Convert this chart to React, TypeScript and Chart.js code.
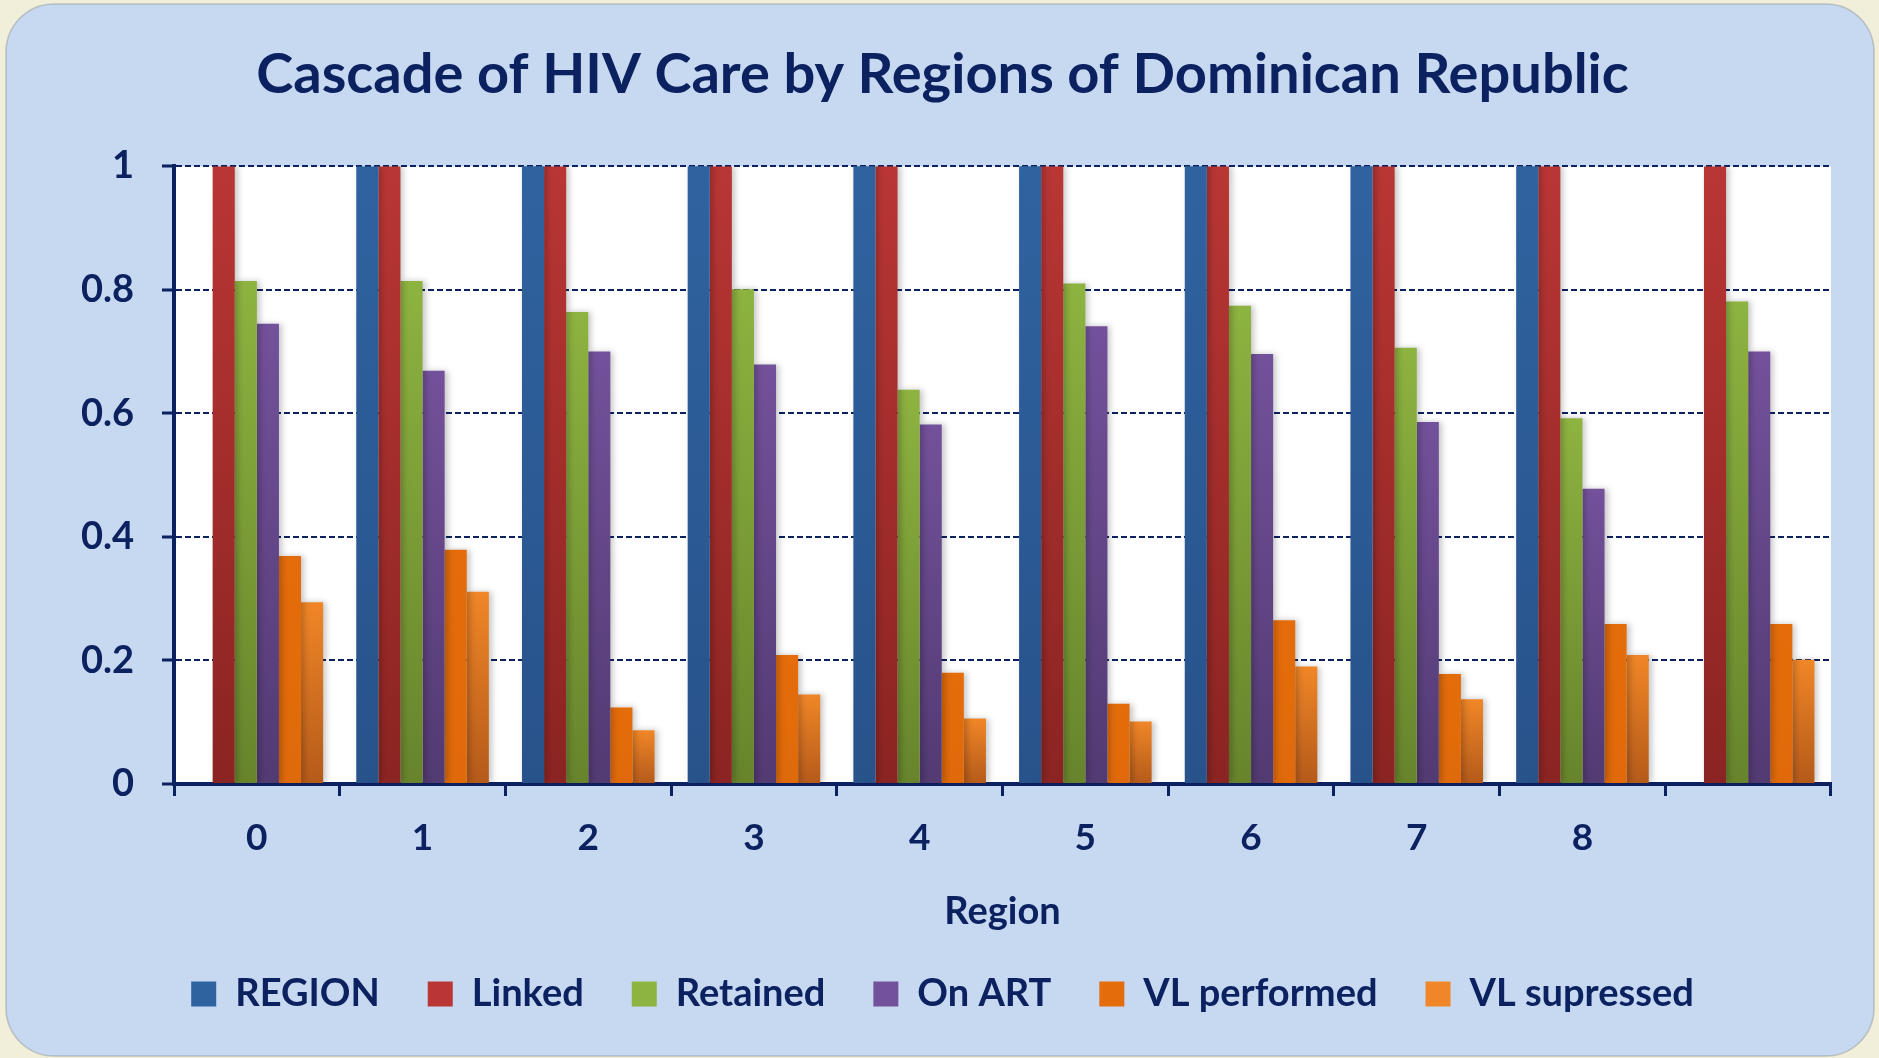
import React, { useEffect, useRef } from "react";
import { Chart, registerables } from "chart.js";

Chart.register(...registerables);

const categories = ["0", "1", "2", "3", "4", "5", "6", "7", "8", ""];
const seriesNames = ["REGION", "Linked", "Retained", "On ART", "VL performed", "VL supressed"];
const regionVals = [0, 1, 2, 3, 4, 5, 6, 7, 8, null];
const linkedVals = [1, 1, 1, 1, 1, 1, 1, 1, 1, 1];
const retainedVals = [0.814, 0.814, 0.764, 0.801, 0.638, 0.81, 0.774, 0.706, 0.592, 0.781];
const onArtVals = [0.745, 0.669, 0.7, 0.679, 0.582, 0.741, 0.696, 0.586, 0.478, 0.7];
const vlPerformedVals = [0.369, 0.379, 0.124, 0.209, 0.18, 0.13, 0.265, 0.178, 0.259, 0.259];
const vlSuppressedVals = [0.294, 0.311, 0.087, 0.145, 0.106, 0.101, 0.19, 0.137, 0.209, 0.201];
const yTickValues = [0, 0.2, 0.4, 0.6, 0.8, 1];
const yTickLabels = ["0", "0.2", "0.4", "0.6", "0.8", "1"];

const NAVY = "#0c2160";
const topColors = ["#2f63a0", "#b93634", "#8db340", "#73519b", "#e46c0a", "#f08627"];
const bottomColors = ["#28528a", "#8a2422", "#67842c", "#523a72", "#e06a0a", "#b45a1a"];

const makeBg = (top: string, bottom: string) => (ctx: any) => {
  const chart = ctx.chart;
  const ca = chart.chartArea;
  if (!ca || ctx.type !== "data") return top;
  const v = ctx.raw;
  if (v == null) return top;
  const y = chart.scales.y;
  const yTop = y.getPixelForValue(Math.min(v, 1));
  const yBot = y.getPixelForValue(0);
  if (yBot - yTop < 1) return top;
  const g = chart.ctx.createLinearGradient(0, yTop, 0, yBot);
  g.addColorStop(0, top);
  g.addColorStop(1, bottom);
  return g;
};

const panelPlugin = {
  id: "panelBg",
  beforeDraw(chart: any) {
    const { ctx, width, height, chartArea } = chart;
    ctx.save();
    ctx.fillStyle = "#f1eed9";
    ctx.fillRect(0, 0, width, height);
    ctx.fillStyle = "#c6d9f0";
    ctx.strokeStyle = "rgba(110,120,130,0.35)";
    ctx.lineWidth = 1.5;
    ctx.beginPath();
    ctx.roundRect(6, 4, 1868, 1052, 48);
    ctx.fill();
    ctx.stroke();
    ctx.fillStyle = "#ffffff";
    ctx.fillRect(chartArea.left, chartArea.top, chartArea.right - chartArea.left, chartArea.bottom - chartArea.top);
    ctx.restore();
  },
};

const shadowPlugin = {
  id: "barShadow",
  beforeDatasetsDraw(chart: any) {
    const ctx = chart.ctx;
    ctx.save();
    ctx.shadowColor = "rgba(0,0,0,0.22)";
    ctx.shadowBlur = 6;
    ctx.shadowOffsetX = 3;
    ctx.shadowOffsetY = 0;
  },
  afterDatasetsDraw(chart: any) {
    chart.ctx.restore();
  },
};

export default function App() {
  const ref = useRef<HTMLCanvasElement | null>(null);

  useEffect(() => {
    let chart: Chart | null = null;
    let cancelled = false;
    const build = () => {
      if (cancelled || !ref.current) return;
      const allVals = [regionVals, linkedVals, retainedVals, onArtVals, vlPerformedVals, vlSuppressedVals];
      chart = new Chart(ref.current, {
        type: "bar",
        data: {
          labels: categories,
          datasets: seriesNames.map((name, i) => ({
            label: name,
            data: allVals[i] as any,
            backgroundColor: makeBg(topColors[i], bottomColors[i]) as any,
            borderWidth: 0,
            categoryPercentage: 0.8,
            barPercentage: 1.0,
          })),
        },
        options: {
          responsive: false,
          animation: false,
          layout: { padding: { left: 54, right: 48, top: 0, bottom: 35 } },
          plugins: {
            tooltip: { enabled: false },
            title: {
              display: true,
              text: "Cascade of HIV Care by Regions of Dominican Republic",
              color: NAVY,
              font: { family: "Lato", weight: "bold", size: 56, lineHeight: 1.2 },
              padding: { top: 41, bottom: 58 },
            },
            legend: {
              display: true,
              position: "bottom",
              labels: {
                color: NAVY,
                font: { family: "Lato", weight: "bold", size: 38 },
                boxWidth: 25,
                boxHeight: 25,
                padding: 48,
                generateLabels: (c: any) =>
                  c.data.datasets.map((d: any, i: number) => ({
                    text: d.label,
                    fillStyle: topColors[i],
                    strokeStyle: topColors[i],
                    lineWidth: 0,
                    fontColor: NAVY,
                    datasetIndex: i,
                    hidden: false,
                  })),
              },
            },
          },
          scales: {
            x: {
              afterFit: (s: any) => {
                s.height = 143;
              },
              grid: {
                display: true,
                drawOnChartArea: false,
                drawTicks: true,
                offset: true,
                tickLength: 12,
                tickColor: NAVY,
                tickWidth: 3,
              },
              border: { display: true, color: NAVY, width: 4 },
              ticks: {
                color: NAVY,
                padding: 20,
                font: { family: "Lato", weight: "bold", size: 37 },
              },
              title: {
                display: true,
                text: "Region",
                color: NAVY,
                font: { family: "Lato", weight: "bold", size: 38, lineHeight: 1.2 },
                padding: { top: 0, bottom: -8 },
              },
            },
            y: {
              min: 0,
              max: 1,
              afterFit: (s: any) => {
                s.width = 120;
              },
              afterBuildTicks: (s: any) => {
                s.ticks = yTickValues.map((v) => ({ value: v }));
              },
              grid: {
                display: true,
                color: NAVY,
                lineWidth: 2,
                drawTicks: true,
                tickLength: 12,
                tickColor: NAVY,
                tickWidth: 3,
                tickBorderDash: [],
              },
              border: { display: true, color: NAVY, width: 4, dash: [6, 3] },
              ticks: {
                color: NAVY,
                padding: 28,
                font: { family: "Lato", weight: "bold", size: 38 },
                callback: (_v: any, idx: number) => yTickLabels[idx],
              },
            },
          },
        },
        plugins: [panelPlugin, shadowPlugin],
      } as any);
    };
    const fontsReady = (document as any).fonts
      ? Promise.all([
          (document as any).fonts.load("bold 38px Lato"),
          (document as any).fonts.load("bold 56px Lato"),
        ]).catch(() => null)
      : Promise.resolve(null);
    fontsReady.then(build);
    return () => {
      cancelled = true;
      if (chart) chart.destroy();
    };
  }, []);

  return (
    <div style={{ position: "fixed", left: 0, top: 0, width: 1879, height: 1058 }}>
      <canvas ref={ref} width={1879} height={1058} style={{ display: "block" }} />
    </div>
  );
}
